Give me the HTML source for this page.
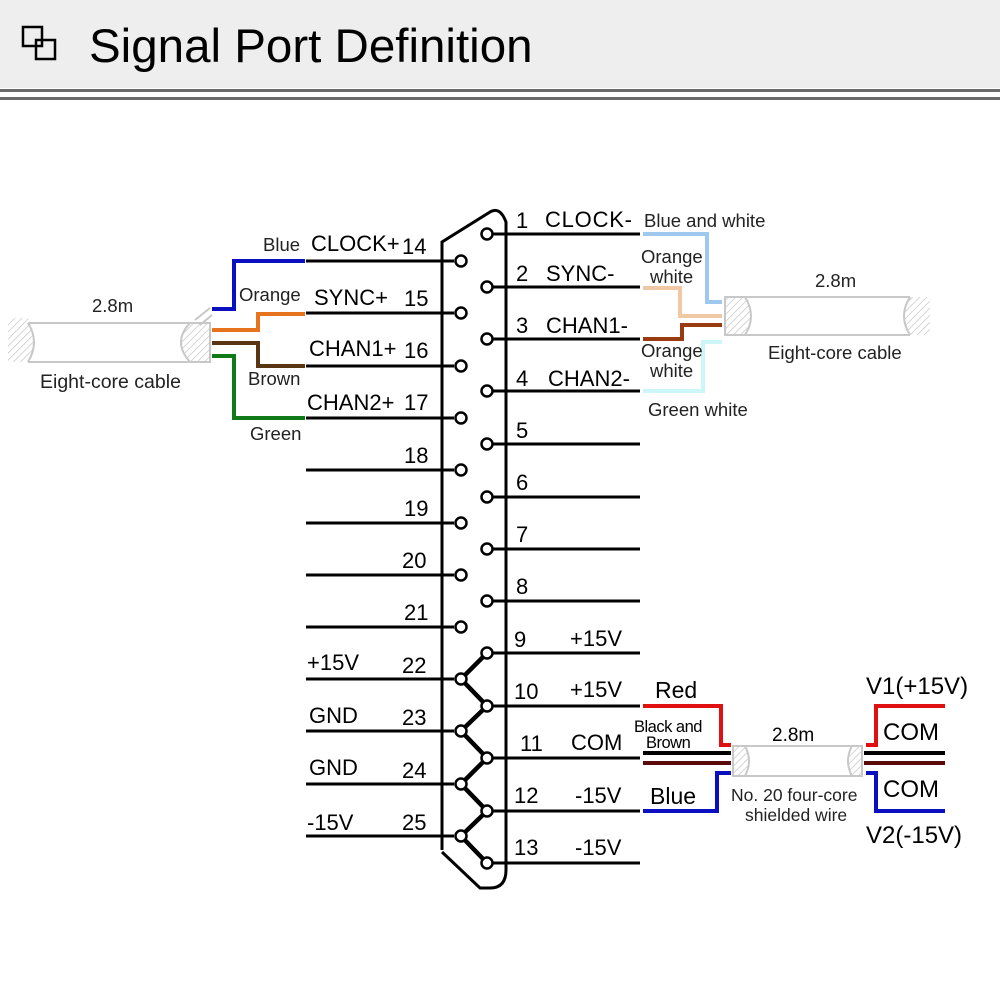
<!DOCTYPE html>
<html><head><meta charset="utf-8"><style>
html,body{margin:0;padding:0;background:#fff;}
svg{display:block;font-family:"Liberation Sans",Arial,sans-serif;}
</style></head><body>
<svg width="1000" height="983" viewBox="0 0 1000 983" xmlns="http://www.w3.org/2000/svg">
<defs>
<pattern id="h" width="5" height="5" patternUnits="userSpaceOnUse" patternTransform="rotate(45)">
<line x1="0" y1="0" x2="0" y2="5" stroke="#c8c8c8" stroke-width="1.5"/>
</pattern>
</defs>
<rect x="0" y="0" width="1000" height="88" fill="#eeeeee"/>
<rect x="0" y="89" width="1000" height="3" fill="#6a6a6a"/>
<rect x="0" y="97" width="1000" height="3" fill="#6a6a6a"/>
<rect x="23" y="27" width="19" height="19" fill="none" stroke="#000" stroke-width="2.5"/>
<rect x="36" y="40" width="19" height="19" fill="none" stroke="#000" stroke-width="2.5"/>
<text x="89" y="62" font-size="47.5" fill="#000">Signal Port Definition</text>

<path d="M442,850 L442,242 L490,212 Q500,206 506,222 L506,870 Q506,888 490,888 L480,888 L442,852" fill="none" stroke="#000" stroke-width="3"/>

<g stroke="#000" stroke-width="3">
<line x1="306" y1="261" x2="454" y2="261"/>
<line x1="306" y1="313" x2="454" y2="313"/>
<line x1="306" y1="366" x2="454" y2="366"/>
<line x1="306" y1="418" x2="454" y2="418"/>
<line x1="306" y1="470" x2="454" y2="470"/>
<line x1="306" y1="523" x2="454" y2="523"/>
<line x1="306" y1="575" x2="454" y2="575"/>
<line x1="306" y1="627" x2="454" y2="627"/>
<line x1="306" y1="679" x2="454" y2="679"/>
<line x1="306" y1="731" x2="454" y2="731"/>
<line x1="306" y1="784" x2="454" y2="784"/>
<line x1="306" y1="836" x2="454" y2="836"/>
<line x1="493" y1="234" x2="640" y2="234"/>
<line x1="493" y1="287" x2="640" y2="287"/>
<line x1="493" y1="339" x2="640" y2="339"/>
<line x1="493" y1="391" x2="640" y2="391"/>
<line x1="493" y1="444" x2="640" y2="444"/>
<line x1="493" y1="497" x2="640" y2="497"/>
<line x1="493" y1="549" x2="640" y2="549"/>
<line x1="493" y1="601" x2="640" y2="601"/>
<line x1="493" y1="653" x2="640" y2="653"/>
<line x1="493" y1="706" x2="640" y2="706"/>
<line x1="493" y1="758" x2="640" y2="758"/>
<line x1="493" y1="811" x2="640" y2="811"/>
<line x1="493" y1="863" x2="640" y2="863"/>
</g>
<polyline points="487,653 461,679 487,706 461,731 487,758 461,784 487,811 461,836 487,863" fill="none" stroke="#000" stroke-width="4.5"/>
<g fill="#fff" stroke="#000" stroke-width="2.5">
<circle cx="461" cy="261" r="5.5"/><circle cx="461" cy="313" r="5.5"/><circle cx="461" cy="366" r="5.5"/><circle cx="461" cy="418" r="5.5"/>
<circle cx="461" cy="470" r="5.5"/><circle cx="461" cy="523" r="5.5"/><circle cx="461" cy="575" r="5.5"/><circle cx="461" cy="627" r="5.5"/>
<circle cx="461" cy="679" r="5.5"/><circle cx="461" cy="731" r="5.5"/><circle cx="461" cy="784" r="5.5"/><circle cx="461" cy="836" r="5.5"/>
<circle cx="487" cy="234" r="5.5"/><circle cx="487" cy="287" r="5.5"/><circle cx="487" cy="339" r="5.5"/><circle cx="487" cy="391" r="5.5"/>
<circle cx="487" cy="444" r="5.5"/><circle cx="487" cy="497" r="5.5"/><circle cx="487" cy="549" r="5.5"/><circle cx="487" cy="601" r="5.5"/>
<circle cx="487" cy="653" r="5.5"/><circle cx="487" cy="706" r="5.5"/><circle cx="487" cy="758" r="5.5"/><circle cx="487" cy="811" r="5.5"/>
<circle cx="487" cy="863" r="5.5"/>
</g>

<g font-size="22" fill="#000">
<text x="311" y="251">CLOCK+</text><text x="402" y="254">14</text>
<text x="314" y="305">SYNC+</text><text x="404" y="306">15</text>
<text x="309" y="356">CHAN1+</text><text x="404" y="358">16</text>
<text x="307" y="410">CHAN2+</text><text x="404" y="410">17</text>
<text x="404" y="463">18</text><text x="404" y="516">19</text><text x="402" y="568">20</text><text x="404" y="620">21</text>
<text x="307" y="670">+15V</text><text x="402" y="673">22</text>
<text x="309" y="723">GND</text><text x="402" y="725">23</text>
<text x="309" y="775">GND</text><text x="402" y="778">24</text>
<text x="307" y="830">-15V</text><text x="402" y="830">25</text>
<text x="516" y="228">1</text><text x="545" y="227" textLength="87">CLOCK-</text>
<text x="516" y="281">2</text><text x="546" y="281">SYNC-</text>
<text x="516" y="333">3</text><text x="546" y="333">CHAN1-</text>
<text x="516" y="386">4</text><text x="548" y="386">CHAN2-</text>
<text x="516" y="438">5</text><text x="516" y="490">6</text><text x="516" y="542">7</text><text x="516" y="594">8</text>
<text x="514" y="647">9</text><text x="570" y="646">+15V</text>
<text x="514" y="699">10</text><text x="570" y="697">+15V</text>
<text x="520" y="751">11</text><text x="571" y="750">COM</text>
<text x="514" y="803">12</text><text x="575" y="803">-15V</text>
<text x="514" y="855">13</text><text x="575" y="855">-15V</text>
</g>

<!-- left cable -->
<g stroke="#c8c8c8" stroke-width="2">
<path d="M8,318 L28,318 Q40,340 28,362 L8,362 Z" fill="url(#h)" stroke="none"/>
<line x1="28" y1="323" x2="190" y2="323" fill="none"/>
<line x1="28" y1="362" x2="190" y2="362" fill="none"/>
<path d="M28,323 Q40,342 28,362" fill="none"/>
<path d="M190,323 Q172,342 190,362 L210,362 L210,323 Z" fill="url(#h)"/>
<path d="M195,320 L210,308 M200,325 L212,315" fill="none"/>
</g>
<g fill="none" stroke-width="4">
<polyline points="305,261 234,261 234,309 212,309" stroke="#0a0fc0"/>
<polyline points="305,314 258,314 258,330 212,330" stroke="#e8731f"/>
<polyline points="212,343 258,343 258,366 305,366" stroke="#5a3512"/>
<polyline points="212,356 234,356 234,418 305,418" stroke="#117a18"/>
</g>
<g font-size="18.5" fill="#222">
<text x="263" y="251">Blue</text>
<text x="239" y="301">Orange</text>
<text x="248" y="385">Brown</text>
<text x="250" y="440">Green</text>
<text x="92" y="312">2.8m</text>
<text x="40" y="388" font-size="19.5">Eight-core cable</text>
</g>

<!-- right cable -->
<g stroke="#c8c8c8" stroke-width="2">
<line x1="745" y1="297" x2="910" y2="297"/>
<line x1="745" y1="335" x2="910" y2="335"/>
<path d="M725,297 L745,297 Q757,316 745,335 L725,335 Z" fill="url(#h)"/>
<path d="M910,297 Q898,316 910,335 L930,335 L930,297 Z" fill="url(#h)" stroke="none"/>
<path d="M910,297 Q898,316 910,335" fill="none"/>
</g>
<g fill="none" stroke-width="4">
<polyline points="643,234 707,234 707,302 722,302" stroke="#9ec8ee"/>
<polyline points="643,288 680,288 680,316 722,316" stroke="#f0c8a4"/>
<polyline points="643,339 682,339 682,325 722,325" stroke="#9a3a10"/>
<polyline points="643,391 703,391 703,342 722,342" stroke="#cdf6f8"/>
</g>
<g font-size="18.5" fill="#222">
<text x="644" y="227">Blue and white</text>
<text x="641" y="263">Orange</text><text x="650" y="283">white</text>
<text x="641" y="357">Orange</text><text x="650" y="377">white</text>
<text x="648" y="416">Green white</text>
<text x="815" y="287">2.8m</text>
<text x="768" y="359">Eight-core cable</text>
</g>

<!-- bottom right cable -->
<g stroke="#c8c8c8" stroke-width="2">
<line x1="745" y1="746" x2="852" y2="746"/>
<line x1="745" y1="776" x2="852" y2="776"/>
<path d="M733,746 L745,746 Q753,761 745,776 L733,776 Z" fill="url(#h)"/>
<path d="M852,746 Q844,761 852,776 L862,776 L862,746 Z" fill="url(#h)"/>
</g>
<g fill="none" stroke-width="4">
<polyline points="643,706 721,706 721,745 731,745" stroke="#e01010"/>
<line x1="643" y1="753" x2="731" y2="753" stroke="#000"/>
<line x1="643" y1="763" x2="731" y2="763" stroke="#5a0a0a"/>
<polyline points="643,811 717,811 717,773 731,773" stroke="#0a0fc0"/>
<polyline points="866,745 876,745 876,706 945,706" stroke="#e01010"/>
<line x1="864" y1="753" x2="945" y2="753" stroke="#000"/>
<line x1="864" y1="763" x2="945" y2="763" stroke="#5a0a0a"/>
<polyline points="866,773 876,773 876,811 945,811" stroke="#0a0fc0"/>
</g>
<g fill="#000">
<text x="655" y="698" font-size="23">Red</text>
<text x="634" y="732" font-size="16.5" letter-spacing="-0.5">Black and</text>
<text x="646" y="748" font-size="16.5" letter-spacing="-0.5">Brown</text>
<text x="650" y="804" font-size="23">Blue</text>
<text x="772" y="741" font-size="19">2.8m</text>
<text x="731" y="801" font-size="17.5" fill="#222">No. 20 four-core</text>
<text x="745" y="821" font-size="17.5" fill="#222">shielded wire</text>
<text x="866" y="694" font-size="24">V1(+15V)</text>
<text x="883" y="740" font-size="24">COM</text>
<text x="883" y="797" font-size="24">COM</text>
<text x="866" y="843" font-size="24">V2(-15V)</text>
</g>
</svg>
</body></html>
